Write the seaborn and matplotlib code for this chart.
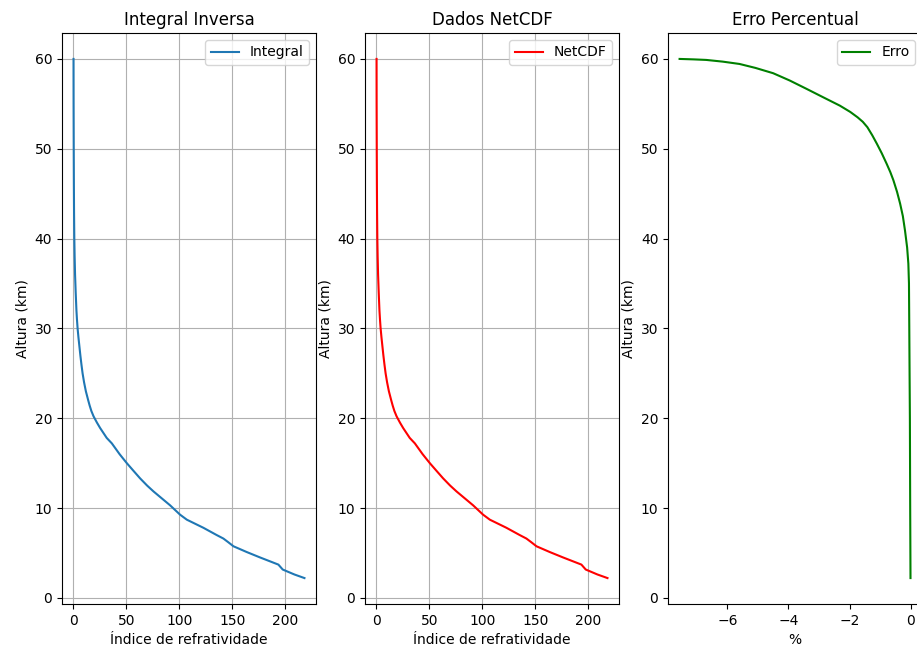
import pandas as pd
import matplotlib
matplotlib.use('Agg')
import matplotlib.pyplot as plt
import seaborn as sns

# Altitudes (km) and refractivity values
altura = [2.2, 2.6, 3.15, 3.7, 4.5, 5.1, 5.74, 6.2, 6.6, 7.0, 7.8, 8.7, 9.26,
          10.3, 11.85, 12.5, 13.3, 14.2, 15.0, 16.0, 17.2, 17.8, 18.9, 19.5,
          20.2, 20.8, 21.4, 22.0, 23.0, 24.0, 25.0, 26.0, 27.0, 28.0, 29.0,
          30.0, 31.0, 32.0, 34.0, 36.0, 38.0, 40.0, 43.0, 46.0, 50.0, 55.0,
          58.0, 60.0]
n_netcdf = [218.0, 208.5, 197.5, 193.4, 176.0, 163.5, 151.0, 146.0, 141.5, 135.0,
            122.6, 107.0, 100.6, 91.2, 75.5, 69.5, 62.9, 56.2, 50.3, 43.5, 36.2,
            31.4, 25.2, 22.2, 19.0, 16.9, 15.3, 13.9, 11.7, 10.0, 8.6, 7.5, 6.5,
            5.6, 4.7, 3.9, 3.3, 2.8, 2.1, 1.5, 1.1, 0.8, 0.55, 0.4, 0.26, 0.13,
            0.09, 0.07]
n_integral = [218.0, 208.5, 197.5, 193.4, 176.0, 163.5, 151.0, 146.0, 141.5, 135.0,
              122.6, 107.0, 100.6, 91.2, 75.5, 69.5, 62.9, 56.2, 50.3, 43.5, 36.2,
              31.4, 25.2, 22.2, 19.0, 16.9, 15.3, 13.9, 11.7, 10.0, 8.6, 7.5, 6.5,
              5.6, 4.7, 3.9, 3.3, 2.8, 2.1, 1.5, 1.1, 0.8, 0.55, 0.4, 0.26, 0.127,
              0.087, 0.065]

# Percent error curve
altura_erro = [2.2, 10.0, 15.0, 20.0, 25.0, 30.2, 35.0, 37.2, 39.0, 40.9, 42.5,
               43.9, 45.2, 46.5, 47.4, 48.33, 49.5, 50.56, 51.5, 52.4, 53.0, 53.5,
               54.1, 54.8, 55.74, 56.67, 57.6, 58.41, 59.0, 59.44, 59.7, 59.89,
               59.95, 60.0]
erro = [-0.01, -0.02, -0.025, -0.03, -0.04, -0.05, -0.06, -0.08, -0.12, -0.19,
        -0.26, -0.35, -0.45, -0.57, -0.67, -0.79, -0.95, -1.11, -1.26, -1.42,
        -1.57, -1.74, -1.98, -2.32, -2.87, -3.41, -3.96, -4.50, -5.08, -5.60,
        -6.15, -6.69, -7.1, -7.56]

df = pd.DataFrame({'altura': altura, 'netcdf': n_netcdf, 'integral': n_integral})
df_erro = pd.DataFrame({'altura': altura_erro, 'erro': erro})

fig, axes = plt.subplots(1, 3, figsize=(9.17, 6.53), dpi=100)
fig.subplots_adjust(left=0.0676, right=1.0055, bottom=0.075, top=0.9495, wspace=0.193)

# Integral inversa
sns.lineplot(data=df, x='integral', y='altura', orient='y', estimator=None,
             color='tab:blue', linewidth=1.5, label='Integral', ax=axes[0])
axes[0].set_title('Integral Inversa')
axes[0].set_xlabel('Índice de refratividade')
axes[0].set_ylabel('Altura (km)')
axes[0].legend(loc='upper right')
axes[0].grid(True)

# Dados NetCDF
sns.lineplot(data=df, x='netcdf', y='altura', orient='y', estimator=None,
             color='red', linewidth=1.5, label='NetCDF', ax=axes[1])
axes[1].set_title('Dados NetCDF')
axes[1].set_xlabel('Índice de refratividade')
axes[1].set_ylabel('Altura (km)')
axes[1].legend(loc='upper right')
axes[1].grid(True)

# Erro percentual
sns.lineplot(data=df_erro, x='erro', y='altura', orient='y', estimator=None,
             color='green', linewidth=1.5, label='Erro', ax=axes[2])
axes[2].set_title('Erro Percentual')
axes[2].set_xlabel('%')
axes[2].set_ylabel('Altura (km)')
axes[2].legend(loc='upper right')

for ax in axes:
    ax.set_yticks([0, 10, 20, 30, 40, 50, 60])

fig.savefig('out.png', dpi=100)
